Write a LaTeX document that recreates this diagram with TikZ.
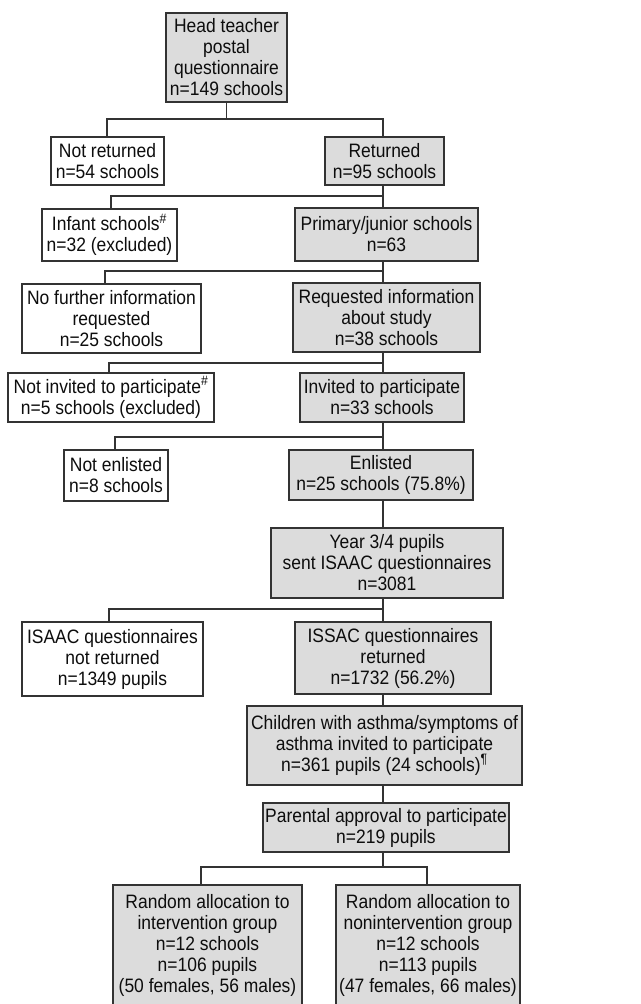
\documentclass[tikz,border=0pt]{standalone}
\usepackage{fontspec}
\setmainfont{Liberation Sans}[FakeStretch=0.9]
\definecolor{boxgray}{HTML}{DCDCDC}
\definecolor{linec}{HTML}{333333}
\tikzset{
  base/.style={draw=linec, line width=1.2pt, align=center, inner sep=0pt,
    font=\fontsize{19.4}{21}\selectfont, text=black!95},
  gbox/.style={base, fill=boxgray},
  wbox/.style={base, fill=white},
  conn/.style={draw=linec, line width=1.2pt},
}
\begin{document}
\begin{tikzpicture}[x=1pt,y=-1pt]
\clip (0,0) rectangle (640,1004);
\fill[white] (0,0) rectangle (640,1004);
% boxes
\node[gbox, minimum width=121pt, minimum height=89pt] (head) at (226.5,57.5) {Head teacher\\postal\\questionnaire\\n=149 schools};
\node[wbox, minimum width=113pt, minimum height=48pt] (notret) at (107.5,161) {Not returned\\n=54 schools};
\node[gbox, minimum width=119pt, minimum height=48pt] (ret) at (384.5,161) {Returned\\n=95 schools};
\node[wbox, minimum width=135pt, minimum height=52pt] (infant) at (109.5,235) {Infant schools\textsuperscript{\#}\\n=32 (excluded)};
\node[gbox, minimum width=183pt, minimum height=53pt] (primary) at (386.5,234.5) {Primary/junior schools\\n=63};
\node[wbox, minimum width=179pt, minimum height=69pt] (nofurther) at (111.5,318.5) {No further information\\requested\\n=25 schools};
\node[gbox, minimum width=187pt, minimum height=69pt] (requested) at (386.5,317.5) {Requested information\\about study\\n=38 schools};
\node[wbox, minimum width=206pt, minimum height=49pt] (notinv) at (111,397.5) {Not invited to participate\textsuperscript{\#}\\n=5 schools (excluded)};
\node[gbox, minimum width=164pt, minimum height=49pt] (invited) at (382,397.5) {Invited to participate\\n=33 schools};
\node[wbox, minimum width=104pt, minimum height=51pt] (notenl) at (116,475.5) {Not enlisted\\n=8 schools};
\node[gbox, minimum width=184pt, minimum height=50pt] (enlisted) at (381,475) {Enlisted\\n=25 schools (75.8\%)};
\node[gbox, minimum width=232pt, minimum height=70pt] (year) at (387,563) {Year 3/4 pupils\\sent ISAAC questionnaires\\n=3081};
\node[wbox, minimum width=181pt, minimum height=74pt] (isaacnot) at (112.5,659) {ISAAC questionnaires\\not returned\\n=1349 pupils};
\node[gbox, minimum width=196pt, minimum height=72pt] (issac) at (393,658) {ISSAC questionnaires\\returned\\n=1732 (56.2\%)};
\node[gbox, minimum width=275pt, minimum height=79pt] (children) at (384.5,745.5) {Children with asthma/symptoms of\\asthma invited to participate\\n=361 pupils (24 schools)\textsuperscript{¶}};
\node[gbox, minimum width=246pt, minimum height=49pt] (parental) at (386,827.5) {Parental approval to participate\\n=219 pupils};
\node[gbox, minimum width=189pt, minimum height=121pt] (randint) at (207.5,945.5) {Random allocation to\\intervention group\\n=12 schools\\n=106 pupils\\(50 females, 56 males)};
\node[gbox, minimum width=184pt, minimum height=121pt] (randnon) at (428,945.5) {Random allocation to\\nonintervention group\\n=12 schools\\n=113 pupils\\(47 females, 66 males)};
% bar coordinates on the spine
\coordinate (b1) at (383,119);
\coordinate (b2) at (383,196);
\coordinate (b3) at (383,271);
\coordinate (b4) at (383,363);
\coordinate (b5) at (383,437);
\coordinate (b6) at (383,609);
\coordinate (b7) at (383,867);
% connectors
\draw[conn] (head.south) -- (head.south |- b1);
\draw[conn] ([xshift=-0.5pt]notret.north) |- (b1) -- (ret.north -| b1);
\draw[conn] (ret.south -| b2) -- (primary.north -| b2);
\draw[conn] (b2) -| ([xshift=1.5pt]infant.north);
\draw[conn] (primary.south -| b3) -- (requested.north -| b3);
\draw[conn] (b3) -| ([xshift=-6.5pt]nofurther.north);
\draw[conn] (requested.south -| b4) -- (invited.north -| b4);
\draw[conn] (b4) -| ([xshift=-2pt]notinv.north);
\draw[conn] (invited.south -| b5) -- (enlisted.north -| b5);
\draw[conn] (b5) -| ([xshift=-1pt]notenl.north);
\draw[conn] (enlisted.south -| b5) -- (year.north -| b5);
\draw[conn] (year.south -| b6) -- (issac.north -| b6);
\draw[conn] (b6) -| ([xshift=-3.5pt]isaacnot.north);
\draw[conn] (issac.south -| b6) -- (children.north -| b6);
\draw[conn] (children.south -| b6) -- (parental.north -| b6);
\draw[conn] (parental.south -| b7) -- (b7);
\draw[conn] ([xshift=-6.5pt]randint.north) |- (b7) -| ([xshift=-1pt]randnon.north);
\end{tikzpicture}
\end{document}
